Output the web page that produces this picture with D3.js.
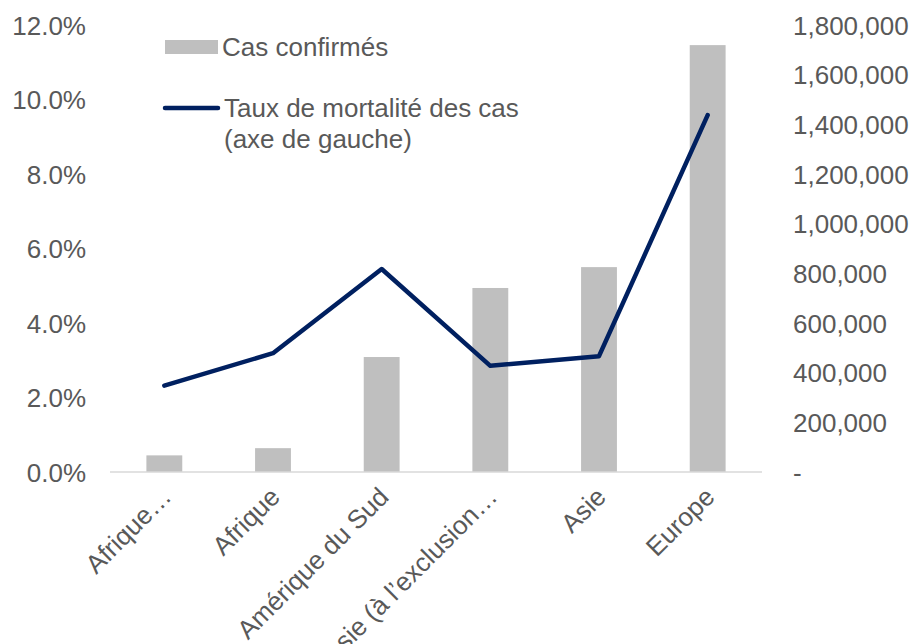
<!DOCTYPE html>
<html>
<head>
<meta charset="utf-8">
<script src="https://cdn.jsdelivr.net/npm/d3@7"></script>
<style>
  body { margin: 0; background: #fff; }
  text { font-family: "Liberation Sans", Arial, sans-serif; fill: #595959; }
</style>
</head>
<body>
<div id="chart"></div>
<script>
// data
const regions = ['Afrique…', 'Afrique', 'Amérique du Sud', 'Asie (à l’exclusion…', 'Asie', 'Europe'];
const confirmedCases = [67000, 96000, 463000, 741000, 825000, 1719000];
const mortalityRate = [0.0232, 0.0319, 0.0545, 0.0285, 0.0311, 0.0958];
const leftTicks = [0, 0.02, 0.04, 0.06, 0.08, 0.10, 0.12];
const rightTicks = [0, 200000, 400000, 600000, 800000, 1000000, 1200000, 1400000, 1600000, 1800000];

const width = 916, height = 644;
const margin = { top: 25, right: 154, bottom: 172, left: 110 };
const fontSize = 26;

const svg = d3.select('#chart')
	.append('svg')
	.attr('width', width)
	.attr('height', height);

const x = d3.scaleBand()
	.domain(regions)
	.range([margin.left, width - margin.right])
	.paddingInner(0.67)
	.paddingOuter(0.335);

const yLeft = d3.scaleLinear()
	.domain([0, 0.12])
	.range([height - margin.bottom, margin.top]);

const yRight = d3.scaleLinear()
	.domain([0, 1800000])
	.range([height - margin.bottom, margin.top]);

// bars (right axis)
svg.append('g')
	.selectAll('rect')
	.data(regions)
	.join('rect')
	.attr('x', d => x(d))
	.attr('width', x.bandwidth())
	.attr('y', (d, i) => yRight(confirmedCases[i]))
	.attr('height', (d, i) => yRight(0) - yRight(confirmedCases[i]))
	.attr('fill', '#bfbfbf');

// baseline
svg.append('line')
	.attr('x1', margin.left)
	.attr('x2', width - margin.right)
	.attr('y1', yLeft(0))
	.attr('y2', yLeft(0))
	.attr('stroke', '#d9d9d9')
	.attr('stroke-width', 1.5);

// left axis
const leftAxis = svg.append('g')
	.attr('transform', `translate(86,0)`)
	.call(d3.axisLeft(yLeft).tickValues(leftTicks).tickFormat(d3.format('.1%')).tickSize(0).tickPadding(0));
leftAxis.select('.domain').remove();
leftAxis.selectAll('text')
	.attr('font-size', fontSize)
	.attr('font-family', null)
	.attr('dy', '0.35em');

// right axis
const rightAxis = svg.append('g')
	.attr('transform', `translate(793,0)`)
	.call(d3.axisRight(yRight).tickValues(rightTicks)
		.tickFormat(d => d === 0 ? '-' : d3.format(',')(d)).tickSize(0).tickPadding(0));
rightAxis.select('.domain').remove();
rightAxis.selectAll('text')
	.attr('font-size', fontSize)
	.attr('font-family', null)
	.attr('dy', '0.35em');

// category labels, rotated
svg.append('g')
	.selectAll('text')
	.data(regions)
	.join('text')
	.attr('transform', d => `translate(${x(d) + x.bandwidth() / 2 + 2},${yLeft(0) + 20}) rotate(-45)`)
	.attr('text-anchor', 'end')
	.attr('dy', '0.35em')
	.attr('font-size', fontSize)
	.text(d => d);

// line (left axis)
const line = d3.line()
	.x((d, i) => x(regions[i]) + x.bandwidth() / 2)
	.y(d => yLeft(d));

svg.append('path')
	.datum(mortalityRate)
	.attr('d', line)
	.attr('fill', 'none')
	.attr('stroke', '#002060')
	.attr('stroke-width', 4.5)
	.attr('stroke-linecap', 'round')
	.attr('stroke-linejoin', 'round');

// legend
const legend = svg.append('g');
legend.append('rect')
	.attr('x', 165).attr('y', 40)
	.attr('width', 53).attr('height', 14)
	.attr('fill', '#bfbfbf');
legend.append('text')
	.attr('x', 222).attr('y', 56)
	.attr('font-size', fontSize)
	.text('Cas confirmés');
legend.append('line')
	.attr('x1', 165).attr('x2', 218)
	.attr('y1', 108).attr('y2', 108)
	.attr('stroke', '#002060')
	.attr('stroke-width', 4.5)
	.attr('stroke-linecap', 'round');
legend.append('text')
	.attr('x', 224).attr('y', 117)
	.attr('font-size', fontSize)
	.text('Taux de mortalité des cas');
legend.append('text')
	.attr('x', 224).attr('y', 148)
	.attr('font-size', fontSize)
	.text('(axe de gauche)');
</script>
</body>
</html>
